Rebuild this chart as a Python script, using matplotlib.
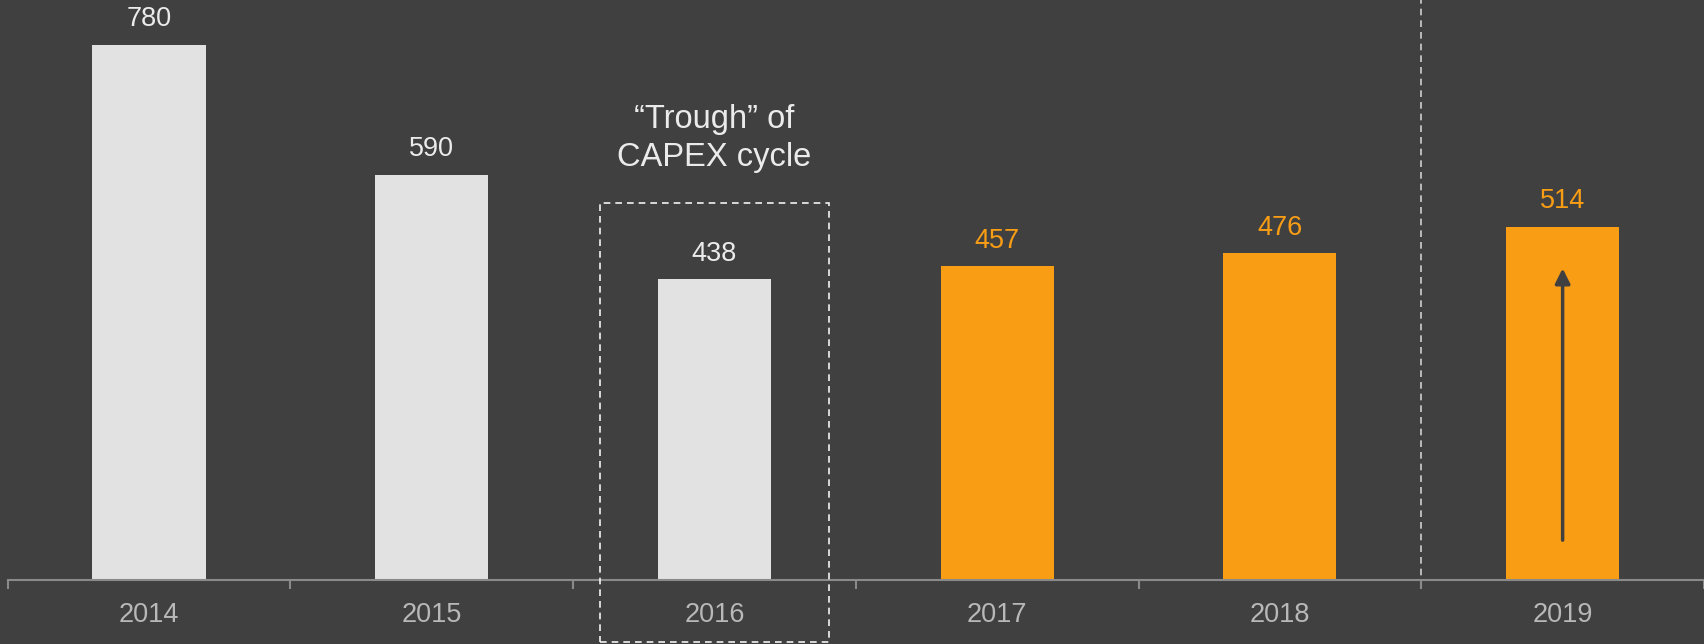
import matplotlib.pyplot as plt
from matplotlib.patches import Rectangle

plt.rcParams['font.family'] = ['Liberation Sans', 'DejaVu Sans']

years = ['2014', '2015', '2016', '2017', '2018', '2019']
capex = [780, 590, 438, 457, 476, 514]
is_orange = [False, False, False, True, True, True]

bg = '#404040'
grey_bar = '#E2E2E2'
orange = '#F99D15'

fig = plt.figure(figsize=(17.04, 6.44), dpi=100, facecolor=bg)
ax = fig.add_axes([0.00446, 0.0994, 0.99554, 0.9006])
ax.set_facecolor(bg)

x = list(range(len(years)))
colors = [orange if o else grey_bar for o in is_orange]
ax.bar(x, capex, width=0.4, color=colors, zorder=2)

for xi, v, o in zip(x, capex, is_orange):
    ax.annotate(str(v), (xi, v), xytext=(0, 18.5), textcoords='offset points',
                ha='center', va='center', fontsize=19.5,
                color=orange if o else '#EBEBEB')

ax.set_xlim(-0.5, 5.5)
ax.set_ylim(0, 845)

# ticks at category boundaries, labels at centres
ax.set_xticks([i - 0.5 for i in range(len(years))] + [5.5])
ax.set_xticklabels([])
ax.set_xticks(x, minor=True)
ax.set_xticklabels(years, minor=True)
ax.tick_params(axis='x', which='major', length=6.5, width=1.5, color='#8A8A8A', direction='out')
ax.tick_params(axis='x', which='minor', length=0, pad=16, labelsize=19.5, labelcolor='#B8B8B8')
ax.set_yticks([])

for s in ['top', 'right', 'left']:
    ax.spines[s].set_visible(False)
ax.spines['bottom'].set_color('#8A8A8A')
ax.spines['bottom'].set_linewidth(1.5)

# forecast separator
ax.plot([4.5, 4.5], [-10, 845], color='#CFCFCF', lw=1.2, ls=(0, (4, 3)), clip_on=False, zorder=1)

# trough box
box = Rectangle((1.596, -90), 0.808, 639, fill=False, edgecolor='#F2F2F2', lw=1.2,
                ls=(0, (4, 3)), clip_on=False, zorder=3)
ax.add_patch(box)
ax.text(2, 643, '\u201cTrough\u201d of\nCAPEX cycle', ha='center', va='center',
        fontsize=23.5, color='#EBEBEB', linespacing=1.3)

# growth arrow in 2019 bar
ax.annotate('', xy=(5, 454), xytext=(5, 58),
            arrowprops=dict(arrowstyle='-|>,head_length=0.9,head_width=0.45',
                            color=bg, lw=2.5, shrinkA=0, shrinkB=0), zorder=4)

fig.savefig('out.png', dpi=100, facecolor=bg)
